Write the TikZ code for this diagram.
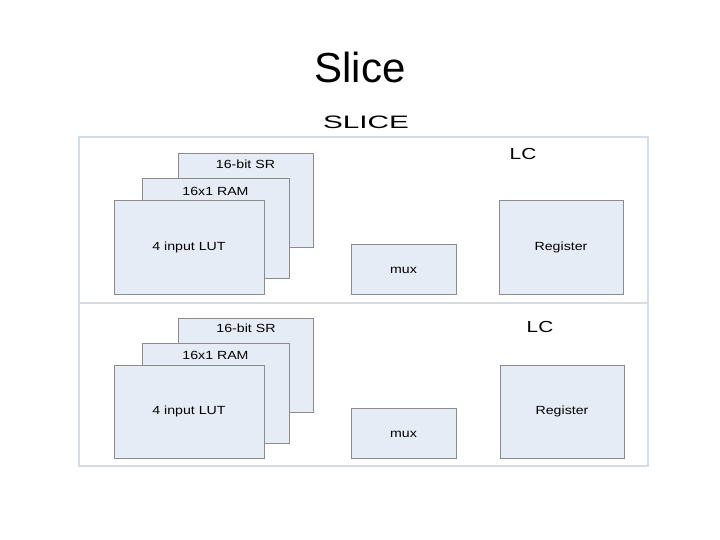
\documentclass[tikz,border=0pt]{standalone}
\usepackage{fontspec}
\setmainfont{Liberation Sans}
\definecolor{boxfill}{HTML}{E6ECF6}
\definecolor{boxline}{HTML}{8C8C8C}
\definecolor{frameline}{HTML}{D4DCE4}
\begin{document}
\begin{tikzpicture}[x=1pt,y=-1pt,
  blk/.style={draw=boxline,fill=boxfill,line width=0.9pt,rectangle,inner sep=0pt},
  lbl/.style={font=\fontsize{11.8}{12}\selectfont,xscale=1.2,inner sep=0pt},
  lc/.style={font=\fontsize{16}{17}\selectfont,xscale=1.3,inner sep=0pt},
  frame/.style={draw=frameline,line width=1.4pt}]
\useasboundingbox (0,0) rectangle (720,540);
\node[font=\fontsize{42}{46}\selectfont,inner sep=0pt] (title) at (360,67) {Slice};
\node[font=\fontsize{18}{20}\selectfont,xscale=1.65,inner sep=0pt] (slice) at (366,122) {SLICE};
% frame
\node[frame,rectangle,minimum width=569,minimum height=329,inner sep=0pt] (frm) at (363.5,301.5) {};
\coordinate (dl) at (79,303);
\coordinate (dr) at (648,303);
\draw[frame] (dl) -- (dr);
% top half
\node[blk,minimum width=135,minimum height=94] (sr1) at (245.5,200) {};
\node[blk,minimum width=147,minimum height=100] (ram1) at (215.5,228) {};
\node[blk,minimum width=150,minimum height=94] (lut1) at (189,247) {};
\node[blk,minimum width=105,minimum height=50] (mux1) at (403.5,269) {};
\node[blk,minimum width=124,minimum height=94] (reg1) at (561,247) {};
\node[lbl] (t-sr1) at (245.5,164) {16-bit SR};
\node[lbl] (t-ram1) at (215.5,191.5) {16x1 RAM};
\node[lbl] (t-lut1) at (189,247.5) {4 input LUT};
\node[lbl] (t-mux1) at (403.5,270.5) {mux};
\node[lbl] (t-reg1) at (561,247.5) {Register};
\node[lc] (lc1) at (523,153.5) {LC};
% bottom half
\node[blk,minimum width=135,minimum height=94] (sr2) at (246,365) {};
\node[blk,minimum width=147,minimum height=100] (ram2) at (215.5,393) {};
\node[blk,minimum width=150,minimum height=93] (lut2) at (189,411.5) {};
\node[blk,minimum width=105,minimum height=50] (mux2) at (403.5,433) {};
\node[blk,minimum width=124,minimum height=93] (reg2) at (562,411.5) {};
\node[lbl] (t-sr2) at (246,328) {16-bit SR};
\node[lbl] (t-ram2) at (215.5,355.5) {16x1 RAM};
\node[lbl] (t-lut2) at (189,411.5) {4 input LUT};
\node[lbl] (t-mux2) at (403.5,434.5) {mux};
\node[lbl] (t-reg2) at (562,411.5) {Register};
\node[lc] (lc2) at (540,326.5) {LC};
\end{tikzpicture}
\end{document}
